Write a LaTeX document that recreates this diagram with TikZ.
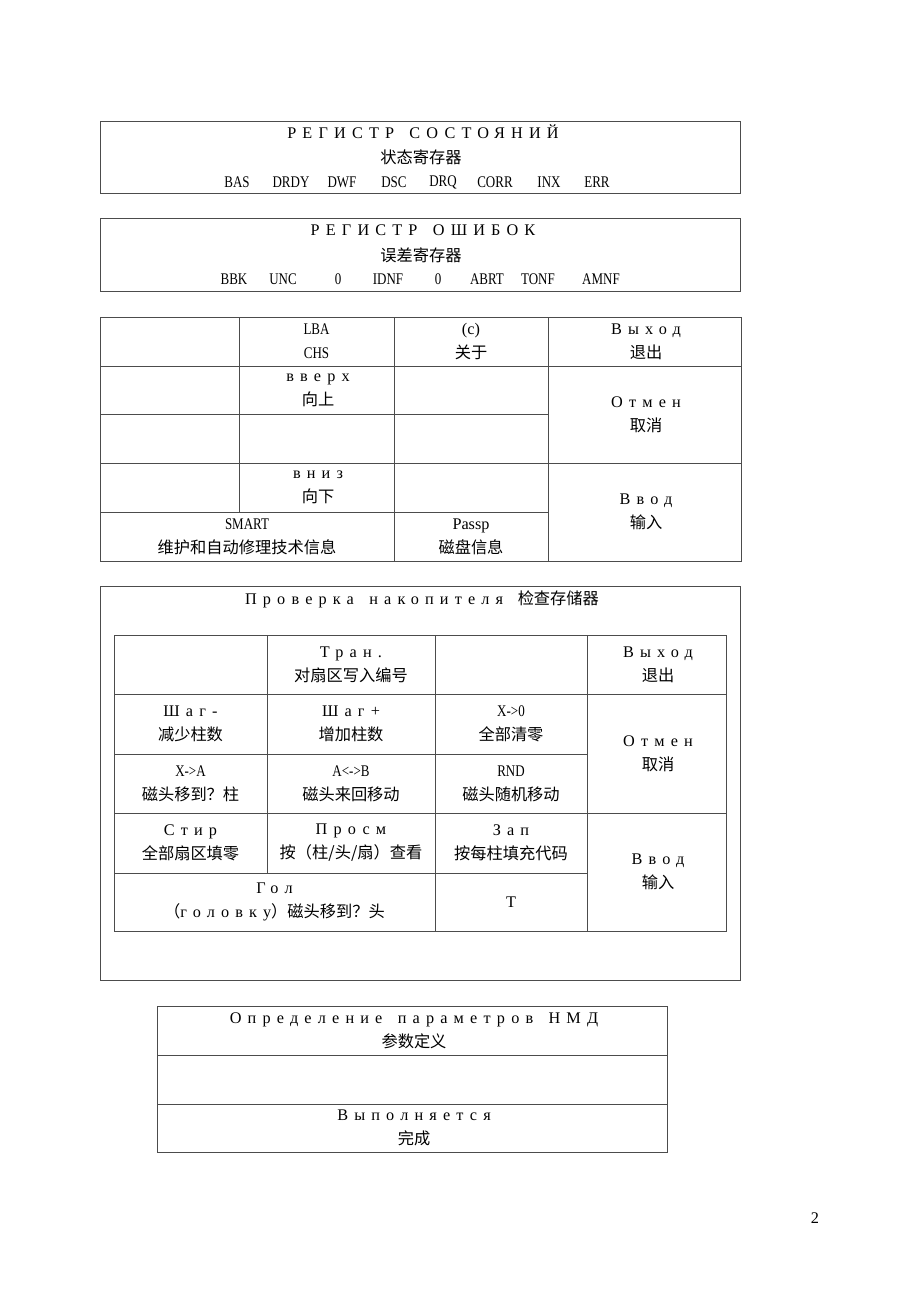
\documentclass[tikz,border=0pt]{standalone}
\usepackage{fontspec}
\setmainfont{Liberation Serif}
\newfontfamily\cjk{Noto Sans CJK SC}
\newfontfamily\ru[LetterSpace=38,WordSpace=1.5]{Liberation Serif}
\newfontfamily\nar[FakeStretch=0.8]{Liberation Serif}
\tikzset{
  rule/.style = {draw=black!70, line width=0.6pt},
  txt/.style = {inner sep=0pt, align=center, font=\fontsize{10.5}{15.5}\selectfont},
  bit/.style = {inner sep=0pt, font=\nar\fontsize{10.5}{12}\selectfont}
         }

\begin{document}
\begin{tikzpicture}[x=0.6467pt,y=-0.6467pt]
    \useasboundingbox (0,0) rectangle (920,1302);
    % Status register box
    \draw[rule] (100,121) rectangle (740,193);
    \node[txt] (statTitle) at (423,132) {\ru РЕГИСТР СОСТОЯНИЙ};
    \node[txt] (statZh) at (421,157) {\cjk 状态寄存器};
    % Status register bits
    \foreach \bx/\bname [count=\i] in {237/BAS,291/DRDY,342/DWF,394/DSC,443/DRQ,495/CORR,549/INX,597/ERR}
    \node[bit] (stat\i) at (\bx,182) {\bname};
    % Error register box
    \draw[rule] (100,218) rectangle (740,291);
    \node[txt] (errTitle) at (423,230) {\ru РЕГИСТР ОШИБОК};
    \node[txt] (errZh) at (421,255) {\cjk 误差寄存器};
    % Error register bits
    \foreach \bx/\bname [count=\i] in {234/BBK,283/UNC,338/0,388/IDNF,438/0,487/ABRT,538/TONF,601/AMNF}
    \node[bit] (err\i) at (\bx,279) {\bname};
    % Main menu table
    \draw[rule] (100,317) rectangle (741,561);
    \draw[rule] (100,366) -- (741,366);
    \draw[rule] (100,414) -- (548,414);
    \draw[rule] (100,463) -- (741,463);
    \draw[rule] (100,512) -- (548,512);
    \draw[rule] (239,317) -- (239,512);
    \draw[rule] (394,317) -- (394,561);
    \draw[rule] (548,317) -- (548,561);
    % Main menu labels
    \node[txt] (mLba) at (316.5,341.5) {\nar LBA\\\nar CHS};
    \node[txt] (mAbout) at (471,341.5) {(c)\\\cjk 关于};
    \node[txt] (mExit) at (646,341.5) {\ru Выход\\\cjk 退出};
    \node[txt] (mUp) at (318,390) {\ru вверх\\\cjk 向上};
    \node[txt] (mCancel) at (646,414.5) {\ru Отмен\\\cjk 取消};
    \node[txt] (mDown) at (318,487.5) {\ru вниз\\\cjk 向下};
    \node[txt] (mEnter) at (646,512) {\ru Ввод\\\cjk 输入};
    \node[txt] (mSmart) at (247,536.5) {\nar SMART\\\cjk 维护和自动修理技术信息};
    \node[txt] (mPassp) at (471,536.5) {Passp\\\cjk 磁盘信息};
    % Drive test box
    \draw[rule] (100,586) rectangle (740,980);
    \node[txt] (testTitle) at (422,599) {{\ru Проверка накопителя}\hspace{0.9em}{\cjk 检查存储器}};
    % Drive test table
    \draw[rule] (114,635) rectangle (726,931);
    \draw[rule] (114,694) -- (726,694);
    \draw[rule] (114,754) -- (587,754);
    \draw[rule] (114,813) -- (726,813);
    \draw[rule] (114,873) -- (587,873);
    \draw[rule] (267,635) -- (267,873);
    \draw[rule] (435,635) -- (435,931);
    \draw[rule] (587,635) -- (587,931);
    % Drive test labels
    \node[txt] (tTran) at (351,664.5) {\ru Тран.\\\cjk 对扇区写入编号};
    \node[txt] (tExit) at (658,664.5) {\ru Выход\\\cjk 退出};
    \node[txt] (tStepDn) at (190.5,724) {\ru Шаг-\\\cjk 减少柱数};
    \node[txt] (tStepUp) at (351,724) {\ru Шаг+\\\cjk 增加柱数};
    \node[txt] (tZero) at (511,724) {\nar X->0\\\cjk 全部清零};
    \node[txt] (tCancel) at (658,753.5) {\ru Отмен\\\cjk 取消};
    \node[txt] (tToA) at (190.5,783.5) {\nar X->A\\\cjk 磁头移到？柱};
    \node[txt] (tAB) at (351,783.5) {\nar A<->B\\\cjk 磁头来回移动};
    \node[txt] (tRnd) at (511,783.5) {\nar RND\\\cjk 磁头随机移动};
    \node[txt] (tErase) at (190.5,843) {\ru Стир\\\cjk 全部扇区填零};
    \node[txt] (tView) at (351,843) {\ru Просм\\\cjk 按（柱/头/扇）查看};
    \node[txt] (tWrite) at (511,843) {\ru Зап\\\cjk 按每柱填充代码};
    \node[txt] (tEnter) at (658,872) {\ru Ввод\\\cjk 输入};
    \node[txt] (tHead) at (274.5,902) {\ru Гол\\{\cjk （}{\ru головку}{\cjk ）磁头移到？头}};
    \node[txt] (tT) at (511,902) {T};
    % Parameter box
    \draw[rule] (157,1006) rectangle (667,1152);
    \draw[rule] (157,1055) -- (667,1055);
    \draw[rule] (157,1104) -- (667,1104);
    \node[txt] (parTitle) at (414,1030.5) {\ru Определение параметров НМД\\\cjk 参数定义};
    \node[txt] (parDone) at (414,1128) {\ru Выполняется\\\cjk 完成};
    % Page number
    \node[txt] (pageNo) at (815,1218) {2};
\end{tikzpicture}
\end{document}
